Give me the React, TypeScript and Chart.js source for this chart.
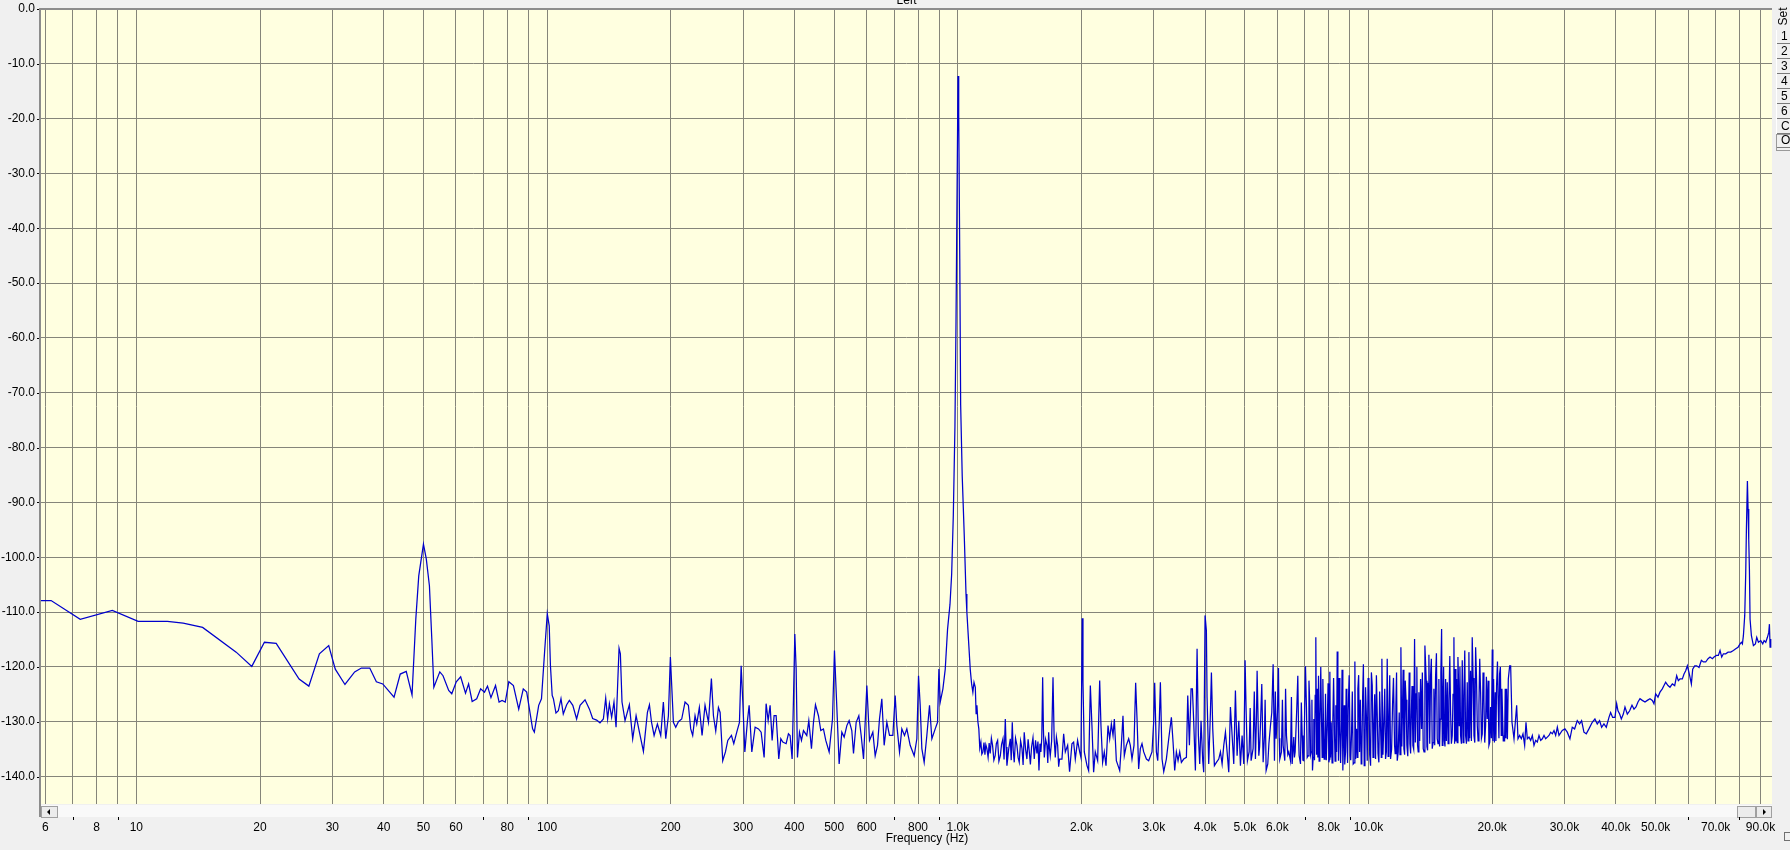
import React, { useEffect, useRef } from 'react';
import { Chart, registerables } from 'chart.js';

Chart.register(...registerables);

const X_MIN = 5.859;
const X_MAX = 96000;
const Y_MIN = -145;
const Y_MAX = 0;

const xTickValues = [6, 7, 8, 9, 10, 20, 30, 40, 50, 60, 70, 80, 90, 100, 200, 300, 400, 500, 600, 700, 800, 900, 1000, 2000, 3000, 4000, 5000, 6000, 7000, 8000, 9000, 10000, 20000, 30000, 40000, 50000, 60000, 70000, 80000, 90000];
const xTickLabels = ['6', '', '8', '', '10', '20', '30', '40', '50', '60', '', '80', '', '100', '200', '300', '400', '500', '600', '', '800', '', '1.0k', '2.0k', '3.0k', '4.0k', '5.0k', '6.0k', '', '8.0k', '', '10.0k', '20.0k', '30.0k', '40.0k', '50.0k', '', '70.0k', '', '90.0k'];
const yTickValues = [-140, -130, -120, -110, -100, -90, -80, -70, -60, -50, -40, -30, -20, -10, 0];
const yTickLabels = ['-140.0', '-130.0', '-120.0', '-110.0', '-100.0', '-90.0', '-80.0', '-70.0', '-60.0', '-50.0', '-40.0', '-30.0', '-20.0', '-10.0', '0.0'];

const titleText = 'Left';
const xAxisTitle = 'Frequency (Hz)';
const setButtons = ['1', '2', '3', '4', '5', '6', 'C', 'O'];

// [frequency Hz, level dB]
const bandLow: [number, number][] = [
  [5.86, -107.9], [6.2, -107.9], [7.3, -111.3], [8.74, -109.7], [10.1, -111.7], [11.9, -111.7], [13.0, -112.0], [14.5, -112.8],
  [17.5, -117.3], [19.1, -119.9], [20.5, -115.5], [21.9, -115.7], [24.9, -122.2], [26.3, -123.5], [27.9, -117.6], [29.4, -116.1],
  [30.5, -120.4], [32.2, -123.2], [34.0, -120.9], [35.3, -120.2], [37.0, -120.2], [38.4, -122.7], [39.8, -123.1], [42.4, -125.5],
  [43.9, -121.3], [45.4, -120.8], [46.9, -125.1], [47.9, -111.3], [48.7, -103.4], [50.0, -97.6], [50.8, -100.3], [51.7, -105.2],
  [52.4, -114.9], [53.0, -123.7], [54.8, -120.9], [55.8, -121.6], [57.6, -124.3], [58.6, -124.9], [60.1, -122.7], [61.6, -121.8],
  [63.3, -124.8], [64.4, -123.1], [65.7, -126.3], [67.4, -125.8], [68.9, -124.0], [70.4, -124.6], [71.6, -123.5], [73.0, -125.6],
  [74.9, -123.4], [76.4, -126.4], [77.7, -126.1], [79.1, -126.4], [80.7, -122.7], [82.8, -123.4], [85.3, -127.7], [87.5, -124.0],
  [89.2, -124.6], [92.2, -131.3], [93.1, -131.9], [95.4, -127.0], [96.9, -125.8], [98.6, -117.3], [100.1, -110.3], [101.2, -112.5],
  [101.9, -119.8], [102.9, -125.2],
];

const bandMid: [number, number][] = [
  [103.6, -125.8], [105.1, -128.4], [106.5, -128.0], [108.1, -125.8], [109.5, -128.6], [111.6, -126.9], [113.3, -126.1], [115.5, -127.0],
  [118.0, -129.5], [120.3, -127.0], [123.7, -126.0], [126.8, -127.7], [129.1, -129.4], [132.0, -129.7], [134.5, -130.2], [137.1, -129.5],
  [138.9, -125.7], [140.4, -129.5], [141.8, -126.7], [143.6, -129.2], [145.5, -126.4], [147.2, -131.0], [148.6, -122.8], [149.7, -116.6],
  [150.8, -117.6], [152.2, -126.4], [154.8, -129.8], [158.6, -126.9], [161.6, -133.1], [164.7, -128.9], [167.8, -131.9], [171.6, -135.4],
  [175.5, -128.3], [177.5, -126.9], [179.5, -130.0], [182.2, -132.5], [185.6, -130.4], [189.1, -132.5], [191.9, -126.4], [194.5, -133.1],
  [197.4, -128.9], [199.6, -118.2], [201.1, -123.4], [203.0, -130.1], [205.7, -131.0], [208.8, -130.0], [212.7, -129.5], [216.7, -126.4],
  [220.8, -127.0], [223.7, -131.3], [226.2, -132.5], [229.2, -128.9], [231.4, -130.4], [234.8, -127.4], [238.4, -132.5], [242.4, -127.0],
  [247.1, -130.1], [251.2, -122.1], [254.1, -128.9], [257.4, -131.7], [261.3, -127.4], [263.8, -128.3], [267.7, -137.1], [271.8, -135.5],
  [275.4, -133.4], [281.1, -132.5], [284.8, -134.0], [289.6, -131.9], [294.0, -130.1], [296.8, -119.8], [299.6, -126.4], [303.0, -135.5],
  [307.5, -129.8], [310.4, -127.0], [315.1, -135.5], [321.0, -131.0], [327.1, -131.3], [332.0, -131.9], [337.6, -136.5], [341.4, -126.7],
  [345.3, -129.8], [349.1, -127.0], [353.1, -133.4], [357.0, -128.9], [361.1, -128.9], [366.5, -136.8], [370.7, -133.1], [374.9, -133.7],
  [381.9, -134.0], [386.9, -132.2], [390.5, -132.5], [395.0, -136.8], [398.0, -125.8], [401.0, -114.0], [404.0, -120.4], [407.0, -136.5],
  [411.6, -131.9], [416.2, -133.4], [420.9, -131.6], [428.8, -132.5], [433.7, -129.8], [440.2, -134.9], [445.2, -130.1], [450.2, -126.9],
  [457.8, -128.9], [463.8, -131.6], [470.8, -131.3], [477.0, -133.4], [486.1, -135.5], [495.3, -129.5], [500.8, -117.0], [506.5, -125.8],
  [514.1, -137.7], [521.9, -131.9], [528.8, -132.8], [536.8, -130.7], [543.7, -129.8], [551.9, -131.6], [557.2, -135.8], [565.6, -130.1],
  [574.1, -128.9], [581.7, -132.5], [589.4, -136.8], [600.5, -123.4], [609.5, -133.4], [621.0, -131.9], [629.2, -136.2], [637.5, -134.3],
  [644.6, -129.5], [653.1, -125.8], [661.7, -134.3], [671.7, -130.1], [681.8, -132.5], [694.7, -132.5], [703.9, -125.2], [710.5, -130.7],
  [721.2, -135.5], [730.6, -131.3], [741.6, -132.5], [751.4, -131.3], [765.6, -134.3], [783.0, -136.2], [794.8, -133.1], [802.3, -121.6],
  [809.8, -127.0], [817.4, -134.9], [828.1, -137.4], [840.6, -132.5], [853.3, -127.0], [864.6, -133.1], [880.9, -131.3], [892.5, -130.1],
  [899.3, -120.4], [906.1, -126.4], [919.8, -124.0], [931.9, -120.4], [944.1, -113.1],
];

const bandPeak: [number, number][] = [
  [957, -108.6], [966, -103.1], [975, -92.4], [984, -76.1], [990, -57.0], [1001, -12.2], [1005, -19.3], [1011, -45.6],
  [1016, -72.2], [1025, -85.2], [1037, -96.3], [1047, -106.7], [1052, -110.0],
];

const bandUpper: [number, number][] = [
  [1072, -120.4], [1080, -123.0], [1088, -124.6], [1095, -122.8], [1103, -123.7], [1108, -128.5], [1113, -127.0], [1119, -130.0],
  [1125, -131.3], [1131, -134.8], [1138, -133.7], [1144, -135.9], [1151, -135.5], [1158, -133.8], [1164, -136.0], [1170, -134.2],
  [1177, -134.9], [1185, -136.5], [1192, -133.9], [1199, -135.8], [1207, -133.0], [1215, -134.3], [1224, -137.0], [1233, -136.2],
  [1241, -134.0], [1250, -133.4], [1259, -137.2], [1269, -136.2], [1278, -134.1], [1288, -133.1], [1296, -136.9], [1305, -129.5],
  [1311, -134.6], [1317, -138.0], [1330, -135.0], [1342, -133.1], [1349, -137.0], [1357, -130.1], [1364, -135.2], [1372, -137.4],
  [1382, -133.0], [1393, -134.3], [1402, -136.5], [1411, -137.4], [1422, -133.5], [1433, -134.9], [1442, -137.9], [1451, -131.9],
  [1462, -135.0], [1473, -136.8], [1483, -133.2], [1493, -135.5], [1502, -137.8], [1512, -134.6], [1524, -132.9], [1535, -136.8],
  [1546, -133.4], [1558, -135.8], [1567, -133.6], [1576, -138.9], [1585, -134.0], [1593, -135.5], [1601, -133.0], [1609, -121.9],
  [1616, -131.5], [1624, -136.5], [1636, -133.2], [1648, -134.3], [1656, -137.5], [1664, -131.9], [1671, -134.8], [1679, -136.2],
  [1692, -133.5], [1705, -121.9], [1716, -133.0], [1727, -136.5], [1738, -132.8], [1750, -134.3], [1760, -138.2], [1769, -136.8],
];

const bandHigh: [number, number][] = [
  [1793, -136.8], [1810, -132.2], [1827, -135.5], [1851, -134.3], [1871, -139.1], [1896, -134.0], [1914, -133.7], [1932, -136.8],
  [1957, -133.4], [1980, -135.5], [1994, -136.5], [2009, -111.1], [2017, -122.8], [2032, -135.5], [2063, -138.0], [2082, -138.9],
  [2102, -123.4], [2121, -130.7], [2141, -139.2], [2161, -135.5], [2190, -137.1], [2215, -122.5], [2231, -130.7], [2252, -137.4],
  [2273, -135.5], [2295, -138.0], [2321, -130.7], [2343, -133.1], [2365, -130.4], [2387, -132.5], [2405, -129.5], [2432, -137.1],
  [2455, -138.0], [2478, -138.9], [2501, -134.3], [2524, -128.9], [2543, -136.2], [2572, -134.3], [2606, -133.1], [2630, -134.3],
  [2655, -136.8], [2685, -134.3], [2710, -122.9], [2731, -129.5], [2756, -138.6], [2782, -134.9], [2808, -134.0], [2835, -135.5],
  [2878, -136.8], [2915, -137.1], [2970, -135.5], [2998, -130.1], [3015, -122.9], [3044, -135.5], [3067, -137.1], [3095, -129.5],
  [3113, -122.8], [3142, -136.8], [3172, -139.1], [3219, -136.8], [3262, -133.1], [3311, -129.2], [3342, -133.7], [3373, -138.9],
  [3405, -135.5], [3437, -137.1], [3469, -135.5], [3502, -137.4], [3548, -136.8], [3602, -136.5], [3629, -125.2], [3663, -134.3],
  [3697, -124.0], [3725, -124.0], [3753, -130.1], [3788, -138.9], [3824, -116.7], [3852, -132.5], [3881, -137.7], [3910, -129.8],
  [3947, -137.1], [3969, -139.2], [3999, -110.6], [4029, -113.4], [4044, -125.5], [4082, -137.7], [4121, -128.3], [4144, -121.0],
  [4175, -131.3], [4214, -138.0], [4262, -137.4], [4318, -136.8], [4359, -135.5], [4400, -137.7], [4441, -134.3], [4483, -131.9],
  [4525, -135.5], [4567, -139.2], [4610, -127.3], [4654, -132.5], [4697, -137.7], [4741, -124.3], [4786, -136.2], [4831, -129.8],
  [4876, -138.0], [4922, -132.5], [4968, -137.7], [5005, -118.8], [5034, -128.0], [5071, -137.1], [5119, -135.5], [5177, -137.1],
  [5235, -134.9], [5304, -136.8], [5334, -129.5], [5354, -120.7], [5405, -136.2], [5455, -130.7], [5496, -123.1], [5538, -137.4],
  [5579, -132.5], [5632, -138.9], [5684, -137.7], [5770, -130.7], [5813, -128.3], [5857, -119.5], [5901, -137.1], [5956, -133.1],
  [6001, -128.3], [6035, -120.2], [6080, -136.8], [6137, -135.5], [6195, -134.3], [6253, -137.1], [6312, -132.5], [6395, -135.5],
  [6455, -137.1], [6516, -137.7], [6577, -132.8], [6626, -135.5], [6689, -127.3], [6726, -121.6], [6777, -136.2], [6828, -137.7],
  [6892, -132.5], [6957, -137.1], [7022, -119.9], [7061, -127.6], [7128, -136.2], [7195, -127.0], [7249, -135.5], [7303, -138.9],
  [7358, -129.5], [7414, -125.2], [7441, -114.6], [7497, -124.0], [7554, -121.6], [7610, -131.0], [7682, -129.5], [7740, -122.2],
  [7798, -136.8], [7856, -124.9], [7930, -131.3], [8005, -137.4], [8050, -120.9], [8110, -130.1], [8186, -129.8], [8263, -132.5],
  [8326, -127.0], [8388, -117.2], [8451, -137.1], [8515, -131.6], [8594, -129.8], [8658, -138.9], [8723, -127.0], [8789, -135.5],
  [8855, -131.9], [8921, -128.0], [9022, -136.2], [9090, -132.2], [9176, -137.7], [9262, -119.0], [9349, -131.3], [9419, -124.0],
  [9508, -135.5], [9597, -137.7], [9669, -126.1], [9760, -138.0], [9833, -123.7], [9926, -137.1], [10019, -123.4], [10114, -138.0],
  [10209, -123.4], [10303, -130.7], [10400, -136.8], [10497, -128.3], [10596, -137.4], [10696, -131.0], [10776, -118.5], [10898, -130.1],
  [11000, -136.8], [11103, -118.5], [11208, -130.1], [11313, -136.8], [11441, -126.7], [11570, -134.3], [11657, -127.0], [11744, -137.1],
  [11876, -128.3], [11988, -116.4], [12100, -127.0], [12191, -134.9], [12283, -122.5], [12398, -134.3], [12515, -128.9], [12609, -134.0],
  [12703, -129.2], [12822, -134.3], [12943, -114.9], [13064, -124.9], [13162, -134.3], [13261, -124.6], [13386, -122.2], [13461, -131.3],
  [13587, -134.9], [13715, -116.1], [13818, -122.5], [13922, -135.2], [14026, -117.8], [14158, -121.6], [14290, -134.9], [14424, -124.0],
  [14559, -121.9], [14696, -133.1], [14833, -122.2], [14945, -129.5], [15061, -113.1], [15174, -126.1], [15288, -133.4], [15403, -122.2],
  [15547, -122.8], [15693, -126.1], [15840, -128.3], [15988, -132.5], [16138, -114.6], [16259, -120.4], [16381, -122.2], [16504, -118.2],
  [16628, -130.7], [16752, -132.5], [16910, -118.8], [17068, -125.2], [17228, -132.5], [17389, -122.8], [17552, -117.3], [17716, -120.7],
  [17882, -114.6], [18057, -132.5], [18226, -116.4], [18397, -130.7], [18569, -127.0], [18743, -124.6], [18918, -132.2], [19095, -126.1],
  [19274, -130.7], [19454, -129.5], [19636, -134.3], [19820, -127.3], [20006, -116.8], [20156, -122.2], [20345, -124.6], [20497, -123.4],
  [20689, -127.0], [20845, -121.3], [21040, -132.5], [21198, -128.9], [21357, -132.5], [21517, -124.0], [21679, -124.0], [21892, -122.2],
  [22057, -119.8], [22181, -119.8], [22347, -130.1], [22600, -133.1], [22940, -127.0], [23112, -133.1], [23329, -132.5], [23548, -133.1],
  [23769, -132.2], [23992, -134.3], [24172, -130.1], [24354, -133.1], [24582, -132.8], [24813, -133.4], [25046, -132.5], [25281, -134.3],
  [25518, -133.4], [25757, -133.7], [25999, -132.5], [26246, -133.4], [26493, -133.1], [26741, -132.5], [26992, -133.1], [27245, -132.8],
  [27501, -132.5], [27759, -131.9], [28020, -132.2], [28283, -131.6], [28548, -132.5], [28816, -131.0], [29086, -132.5],
];

// finer spikes and dips of the dense 5k-22k noise
const bandHighFine: [number, number][] = [
  [5150, -127.5], [5270, -124.5], [5430, -134.5], [5600, -126.0], [5720, -134.0], [5930, -124.5], [6060, -133.0], [6170, -126.0],
  [6280, -124.0], [6360, -136.0], [6490, -125.5], [6600, -136.5], [6760, -133.5], [6860, -126.5], [6920, -137.0], [6990, -128.0],
  [7090, -136.5], [7160, -122.5], [7225, -136.0], [7280, -126.0], [7330, -136.5], [7385, -137.0], [7470, -136.0], [7525, -136.5],
  [7580, -137.2], [7650, -120.0], [7710, -136.5], [7770, -131.0], [7830, -136.0], [7890, -137.0], [7970, -123.0], [8030, -136.8],
  [8080, -136.5], [8150, -137.5], [8220, -122.0], [8290, -137.2], [8360, -135.5], [8420, -126.5], [8480, -122.0], [8550, -137.5],
  [8620, -120.5], [8690, -133.0], [8750, -137.8], [8820, -124.0], [8890, -137.5], [8970, -121.5], [9050, -137.0], [9130, -124.5],
  [9220, -137.5], [9300, -136.8], [9385, -136.5], [9460, -121.5], [9550, -126.0], [9630, -136.6], [9715, -119.5], [9800, -136.5],
  [9880, -129.0], [9975, -122.0], [10065, -136.0], [10160, -121.0], [10255, -136.5], [10350, -125.0], [10450, -121.5], [10545, -135.8],
  [10640, -124.5], [10740, -136.5], [10840, -136.0], [10950, -124.0], [11050, -135.5], [11160, -136.3], [11260, -121.5], [11380, -135.0],
  [11500, -122.0], [11610, -135.8], [11700, -121.0], [11810, -135.5], [11930, -136.0], [12050, -134.5], [12140, -120.5], [12240, -136.0],
  [12340, -126.0], [12460, -136.3], [12560, -121.0], [12660, -135.8], [12760, -123.5], [12880, -135.0], [13000, -133.8], [13110, -120.0],
  [13210, -135.5], [13320, -133.5], [13520, -121.0], [13650, -135.5], [13870, -134.5], [13970, -123.0], [14090, -134.0], [14220, -118.5],
  [14360, -133.8], [14490, -134.3], [14630, -117.5], [14760, -134.0], [14890, -134.5], [15000, -121.0], [15120, -134.3], [15230, -120.0],
  [15350, -134.5], [15470, -133.5], [15620, -134.0], [15770, -118.0], [15910, -134.0], [16060, -125.0], [16200, -134.0], [16320, -133.6],
  [16440, -133.8], [16560, -122.5], [16690, -120.0], [16830, -134.0], [16990, -133.8], [17150, -117.0], [17310, -134.0], [17470, -133.5],
  [17630, -133.0], [17800, -133.5], [17970, -122.0], [18140, -133.8], [18310, -121.5], [18480, -133.5], [18650, -118.5], [18830, -133.0],
  [19000, -121.0], [19180, -133.8], [19360, -121.8], [19550, -122.5], [19730, -133.7], [19910, -133.0], [20080, -133.5], [20250, -133.8],
  [20420, -133.5], [20600, -119.0], [20770, -133.0], [20940, -120.0], [21120, -124.0], [21280, -133.5], [21440, -133.6], [21600, -133.0],
  [21780, -133.2],
];

const bandTop: [number, number][] = [
  [29621, -131.6], [30068, -131.3], [30464, -131.9], [30923, -133.1], [31331, -131.0], [31746, -131.3], [32222, -129.8], [32647, -130.4],
  [33015, -129.8], [33450, -131.9], [33890, -132.2], [34399, -131.3], [35047, -130.1], [35574, -129.5], [36043, -130.4], [36517, -129.8],
  [36936, -131.0], [37422, -130.4], [37916, -131.0], [38489, -129.2], [38850, -128.3], [39290, -129.2], [39808, -129.2], [40182, -126.7],
  [40484, -128.0], [40865, -128.6], [41249, -129.5], [41714, -128.6], [42105, -127.3], [42661, -128.6], [43223, -128.0], [43793, -127.0],
  [44283, -127.7], [44783, -127.3], [45289, -126.4], [45800, -125.8], [46402, -126.1], [47100, -126.4], [47720, -126.1], [48438, -125.8],
  [49075, -126.1], [49535, -126.7], [50000, -124.9], [50658, -125.5], [51230, -124.6], [51904, -124.0], [52391, -123.4], [52884, -122.8],
  [53590, -123.4], [54195, -123.7], [54909, -123.1], [55633, -123.4], [56259, -121.6], [56787, -122.5], [57321, -122.2], [58077, -122.2],
  [58624, -121.3], [59175, -120.7], [59732, -119.8], [60406, -121.3], [61087, -123.1], [61546, -120.4], [62241, -119.8], [62943, -119.8],
  [63770, -120.1], [64611, -118.8], [65339, -119.1], [66198, -119.1], [67071, -118.5], [67827, -118.2], [68719, -118.5], [69366, -118.2],
  [70280, -117.9], [71072, -117.9], [71741, -117.0], [72417, -118.2], [73098, -117.6], [74061, -117.6], [75036, -117.3], [76172, -117.3],
  [77318, -117.0], [78338, -116.7], [79367, -116.4], [80264, -115.8], [80867, -115.5], [81322, -115.8], [81779, -114.3], [82393, -110.6],
  [82856, -102.8], [83167, -94.9], [83634, -86.1], [83947, -91.2], [84261, -96.7], [84577, -102.1], [84894, -111.3], [85531, -114.3],
  [86497, -116.1], [87474, -115.8], [88130, -114.6], [88958, -115.5], [90130, -115.2], [91147, -115.8], [91832, -115.2], [92698, -115.5],
  [93568, -114.6], [94271, -113.7], [94624, -112.2], [94978, -116.4], [95334, -114.9],
];

const FONT = "'Liberation Sans', Arial, sans-serif";
const PANEL_BG = '#f0f0f0';
const PLOT_BG = '#ffffe0';
const GRID = '#85857a';
const TRACE = '#0000cc';

export default function App() {
  const ref = useRef<HTMLCanvasElement | null>(null);

  useEffect(() => {
    const canvas = ref.current;
    if (!canvas) return;
    const points = [...bandLow, ...bandMid, ...bandPeak, ...bandUpper, ...bandHigh, ...bandHighFine, ...bandTop]
      .slice()
      .sort((p, q) => p[0] - q[0])
      .map(([x, y]) => ({ x, y }));

    const decor = {
      id: 'decor',
      beforeDraw(chart: any) {
        const { ctx, chartArea: a } = chart;
        ctx.save();
        ctx.fillStyle = PANEL_BG;
        ctx.fillRect(0, 0, chart.width, chart.height);
        ctx.fillStyle = PLOT_BG;
        ctx.fillRect(a.left, a.top, a.right - a.left, a.bottom - a.top);
        ctx.restore();
      },
      afterDraw(chart: any) {
        const { ctx, chartArea: a } = chart;
        const xs = chart.scales.x;
        const ys = chart.scales.y;
        ctx.save();
        // scroll strip under the plot
        ctx.fillStyle = '#f9f9f9';
        ctx.fillRect(a.left, a.bottom + 1, a.right - a.left, 12);
        ctx.fillStyle = '#ececec';
        ctx.fillRect(a.left, a.bottom + 2, 16, 11);
        ctx.strokeStyle = '#a0a0a0';
        ctx.lineWidth = 1;
        ctx.strokeRect(a.left + 0.5, a.bottom + 2.5, 16, 11);
        ctx.fillStyle = '#000';
        ctx.beginPath();
        ctx.moveTo(a.left + 6, a.bottom + 8);
        ctx.lineTo(a.left + 9, a.bottom + 5);
        ctx.lineTo(a.left + 9, a.bottom + 11);
        ctx.closePath();
        ctx.fill();
        ctx.fillStyle = '#ececec';
        ctx.fillRect(a.right - 35, a.bottom + 2, 18, 11);
        ctx.strokeRect(a.right - 34.5, a.bottom + 2.5, 18, 11);
        ctx.fillRect(a.right - 16, a.bottom + 2, 16, 11);
        ctx.strokeRect(a.right - 15.5, a.bottom + 2.5, 15, 11);
        ctx.fillStyle = '#000';
        ctx.beginPath();
        ctx.moveTo(a.right - 6, a.bottom + 8);
        ctx.lineTo(a.right - 9, a.bottom + 5);
        ctx.lineTo(a.right - 9, a.bottom + 11);
        ctx.closePath();
        ctx.fill();

        // frame (top and left)
        ctx.fillStyle = '#8c8c8c';
        ctx.fillRect(a.left - 2, a.top - 1, a.right - a.left + 2, 2);
        ctx.fillRect(a.left - 2, a.top - 1, 2, a.bottom + 14 - a.top);

        // minor tick marks for unlabeled x ticks
        ctx.fillStyle = '#000';
        xTickValues.forEach((v, i) => {
          if (!xTickLabels[i]) {
            const px = Math.round(xs.getPixelForValue(v));
            ctx.fillRect(px, a.bottom + 13, 1, 3);
          }
        });
        yTickValues.forEach((v) => {
          const py = Math.round(ys.getPixelForValue(v));
          ctx.fillRect(a.left - 4, py, 2, 1);
        });

        // titles
        ctx.fillStyle = '#000';
        ctx.font = `12px ${FONT}`;
        ctx.textAlign = 'center';
        ctx.textBaseline = 'alphabetic';
        ctx.fillText(titleText, (a.left + a.right) / 2, 3.5);
        ctx.textBaseline = 'middle';
        ctx.fillText(xAxisTitle, 927, 839);

        // "Set" panel on the right
        ctx.save();
        ctx.translate(1784, 16.5);
        ctx.rotate(-Math.PI / 2);
        ctx.textAlign = 'center';
        ctx.textBaseline = 'middle';
        ctx.fillText('Set', 0, 0);
        ctx.restore();
        ctx.strokeStyle = '#ffffff';
        ctx.beginPath();
        ctx.moveTo(1776.5, 30);
        ctx.lineTo(1776.5, 150);
        ctx.stroke();
        setButtons.forEach((b, i) => {
          const cy = 37 + i * 15 - (i >= 7 ? 1 : 0);
          ctx.fillStyle = '#000';
          ctx.textAlign = 'left';
          ctx.fillText(b, 1781, cy);
          ctx.strokeStyle = '#7a7a7a';
          ctx.beginPath();
          ctx.moveTo(1777, cy + 6.5);
          ctx.lineTo(1790, cy + 6.5);
          ctx.stroke();
        });
        ctx.strokeStyle = '#9a9a9a';
        ctx.strokeRect(1776.5, 134.5, 14, 16);
        ctx.strokeStyle = '#707070';
        ctx.strokeRect(1784.5, 832.5, 6, 8);
        ctx.restore();
      },
    };

    const chart = new Chart(canvas, {
      type: 'line',
      data: {
        datasets: [
          {
            data: points,
            borderColor: TRACE,
            borderWidth: 1.25,
            pointRadius: 0,
            tension: 0,
            fill: false,
          },
        ],
      },
      options: {
        animation: false,
        responsive: false,
        maintainAspectRatio: false,
        layout: { padding: { top: 9, right: 18, left: 0, bottom: 0 } },
        plugins: { legend: { display: false }, tooltip: { enabled: false }, title: { display: false } },
        scales: {
          x: {
            type: 'logarithmic',
            min: X_MIN,
            max: X_MAX,
            afterBuildTicks: (s: any) => {
              s.ticks = xTickValues.map((v) => ({ value: v }));
            },
            afterFit: (s: any) => {
              s.height = 46;
              s.paddingLeft = 0;
              s.paddingRight = 0;
            },
            ticks: {
              autoSkip: false,
              maxRotation: 0,
              minRotation: 0,
              padding: 16,
              color: '#000',
              font: { family: FONT, size: 12 },
              callback: (_v: any, i: number) => xTickLabels[i],
            },
            grid: { color: GRID, lineWidth: 1, drawTicks: false },
            border: { display: false },
          },
          y: {
            type: 'linear',
            min: Y_MIN,
            max: Y_MAX,
            afterBuildTicks: (s: any) => {
              s.ticks = yTickValues.map((v) => ({ value: v }));
            },
            afterFit: (s: any) => {
              s.width = 41;
              s.paddingTop = 0;
              s.paddingBottom = 0;
            },
            ticks: {
              padding: 6,
              color: '#000',
              font: { family: FONT, size: 12 },
              callback: (_v: any, i: number) => yTickLabels[i],
            },
            grid: { color: GRID, lineWidth: 1, drawTicks: false },
            border: { display: false },
          },
        },
      },
      plugins: [decor],
    } as any);

    return () => chart.destroy();
  }, []);

  return (
    <div style={{ position: 'fixed', left: 0, top: 0, width: 1790, height: 850, background: PANEL_BG }}>
      <canvas ref={ref} width={1790} height={850} style={{ display: 'block', width: 1790, height: 850 }} />
    </div>
  );
}
